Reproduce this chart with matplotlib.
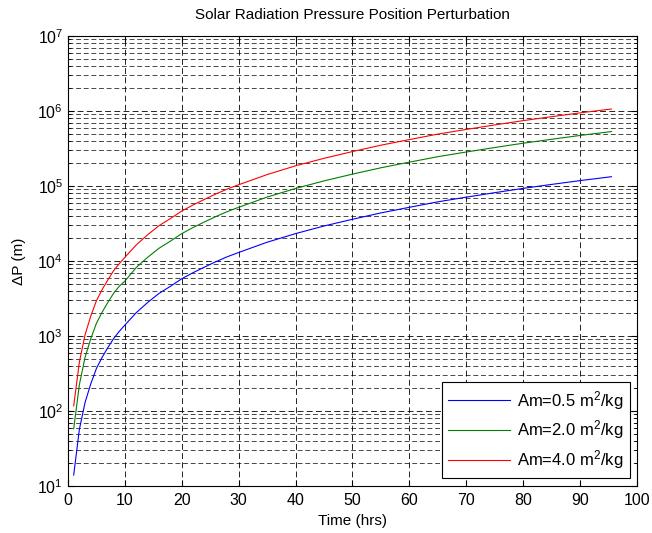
import matplotlib
matplotlib.use("Agg")
import matplotlib.pyplot as plt
from matplotlib.ticker import LogLocator, NullFormatter, MultipleLocator

plt.rcParams['font.family'] = ['Liberation Sans', 'DejaVu Sans']
plt.rcParams['mathtext.default'] = 'regular'
plt.rcParams['font.size'] = 11

time_hrs = [1, 2, 3, 4, 5, 6, 7, 8, 9, 10, 12, 14, 16, 18, 20, 22, 24, 26, 28, 30,
            35, 40, 45, 50, 55, 60, 65, 70, 75, 80, 85, 90, 95.5]
dp_am05 = [14, 57, 130, 230, 370, 520, 700, 920, 1150, 1400, 2050, 2800, 3700, 4600,
           5800, 7000, 8300, 9800, 11400, 13000, 17800, 23200, 29300, 36000, 43800,
           52000, 61500, 71000, 81500, 93000, 105000, 118000, 133000]
dp_am20 = [58, 225, 520, 920, 1480, 2080, 2800, 3700, 4600, 5400, 8200, 11200, 14800,
           18400, 23200, 28000, 33200, 39200, 45600, 52000, 71200, 92800, 117000,
           144000, 175000, 208000, 246000, 284000, 326000, 372000, 420000, 472000, 532000]
dp_am40 = [117, 450, 1040, 1840, 2960, 4160, 5600, 7400, 9200, 11200, 16400, 22400,
           29600, 36800, 46400, 56000, 66400, 78400, 91200, 104000, 142000, 186000,
           234000, 288000, 350000, 416000, 492000, 568000, 652000, 744000, 840000,
           944000, 1064000]
labels = ['Am=0.5 m$^2$/kg', 'Am=2.0 m$^2$/kg', 'Am=4.0 m$^2$/kg']
colors = ['#0000ff', '#008000', '#ff0000']

fig = plt.figure(figsize=(6.52, 5.33), dpi=100)
ax = fig.add_axes([68/652, 1-486/533, (637-68)/652, (486-36)/533])

for ys, lab, c in zip([dp_am05, dp_am20, dp_am40], labels, colors):
    ax.plot(time_hrs, ys, color=c, lw=0.8, label=lab)

ax.set_yscale('log')
ax.set_xlim(0, 100)
ax.set_ylim(1e1, 1e7)
ax.xaxis.set_major_locator(MultipleLocator(10))
ax.yaxis.set_major_locator(LogLocator(base=10, numticks=10))
ax.yaxis.set_minor_locator(LogLocator(base=10, subs=range(2, 10), numticks=20))
ax.yaxis.set_minor_formatter(NullFormatter())

dash = (0, (7, 4))
ax.grid(True, which='major', axis='both', color='black', lw=0.6, linestyle=dash)
ax.grid(True, which='minor', axis='y', color='black', lw=0.5, linestyle=dash)

ax.tick_params(which='both', direction='in', top=True, right=True, labelsize=11.5)
ax.tick_params(axis='x', pad=5)
ax.tick_params(which='major', length=4)
ax.tick_params(which='minor', length=2)
for s in ax.spines.values():
    s.set_linewidth(0.8)

ax.set_title('Solar Radiation Pressure Position Perturbation', fontsize=11, pad=12)
ax.set_xlabel('Time (hrs)', fontsize=11, labelpad=4)
ax.set_ylabel('ΔP (m)', fontsize=11, labelpad=8)

leg = ax.legend(loc='lower right', bbox_to_anchor=(630/652, (533-478)/533),
                bbox_transform=fig.transFigure, fontsize=12,
                fancybox=False, edgecolor='black', framealpha=1,
                handlelength=3.7, labelspacing=0.42, borderpad=0.4,
                handletextpad=0.4, borderaxespad=0)
leg.get_frame().set_linewidth(0.8)

fig.savefig('out.png', dpi=100)
